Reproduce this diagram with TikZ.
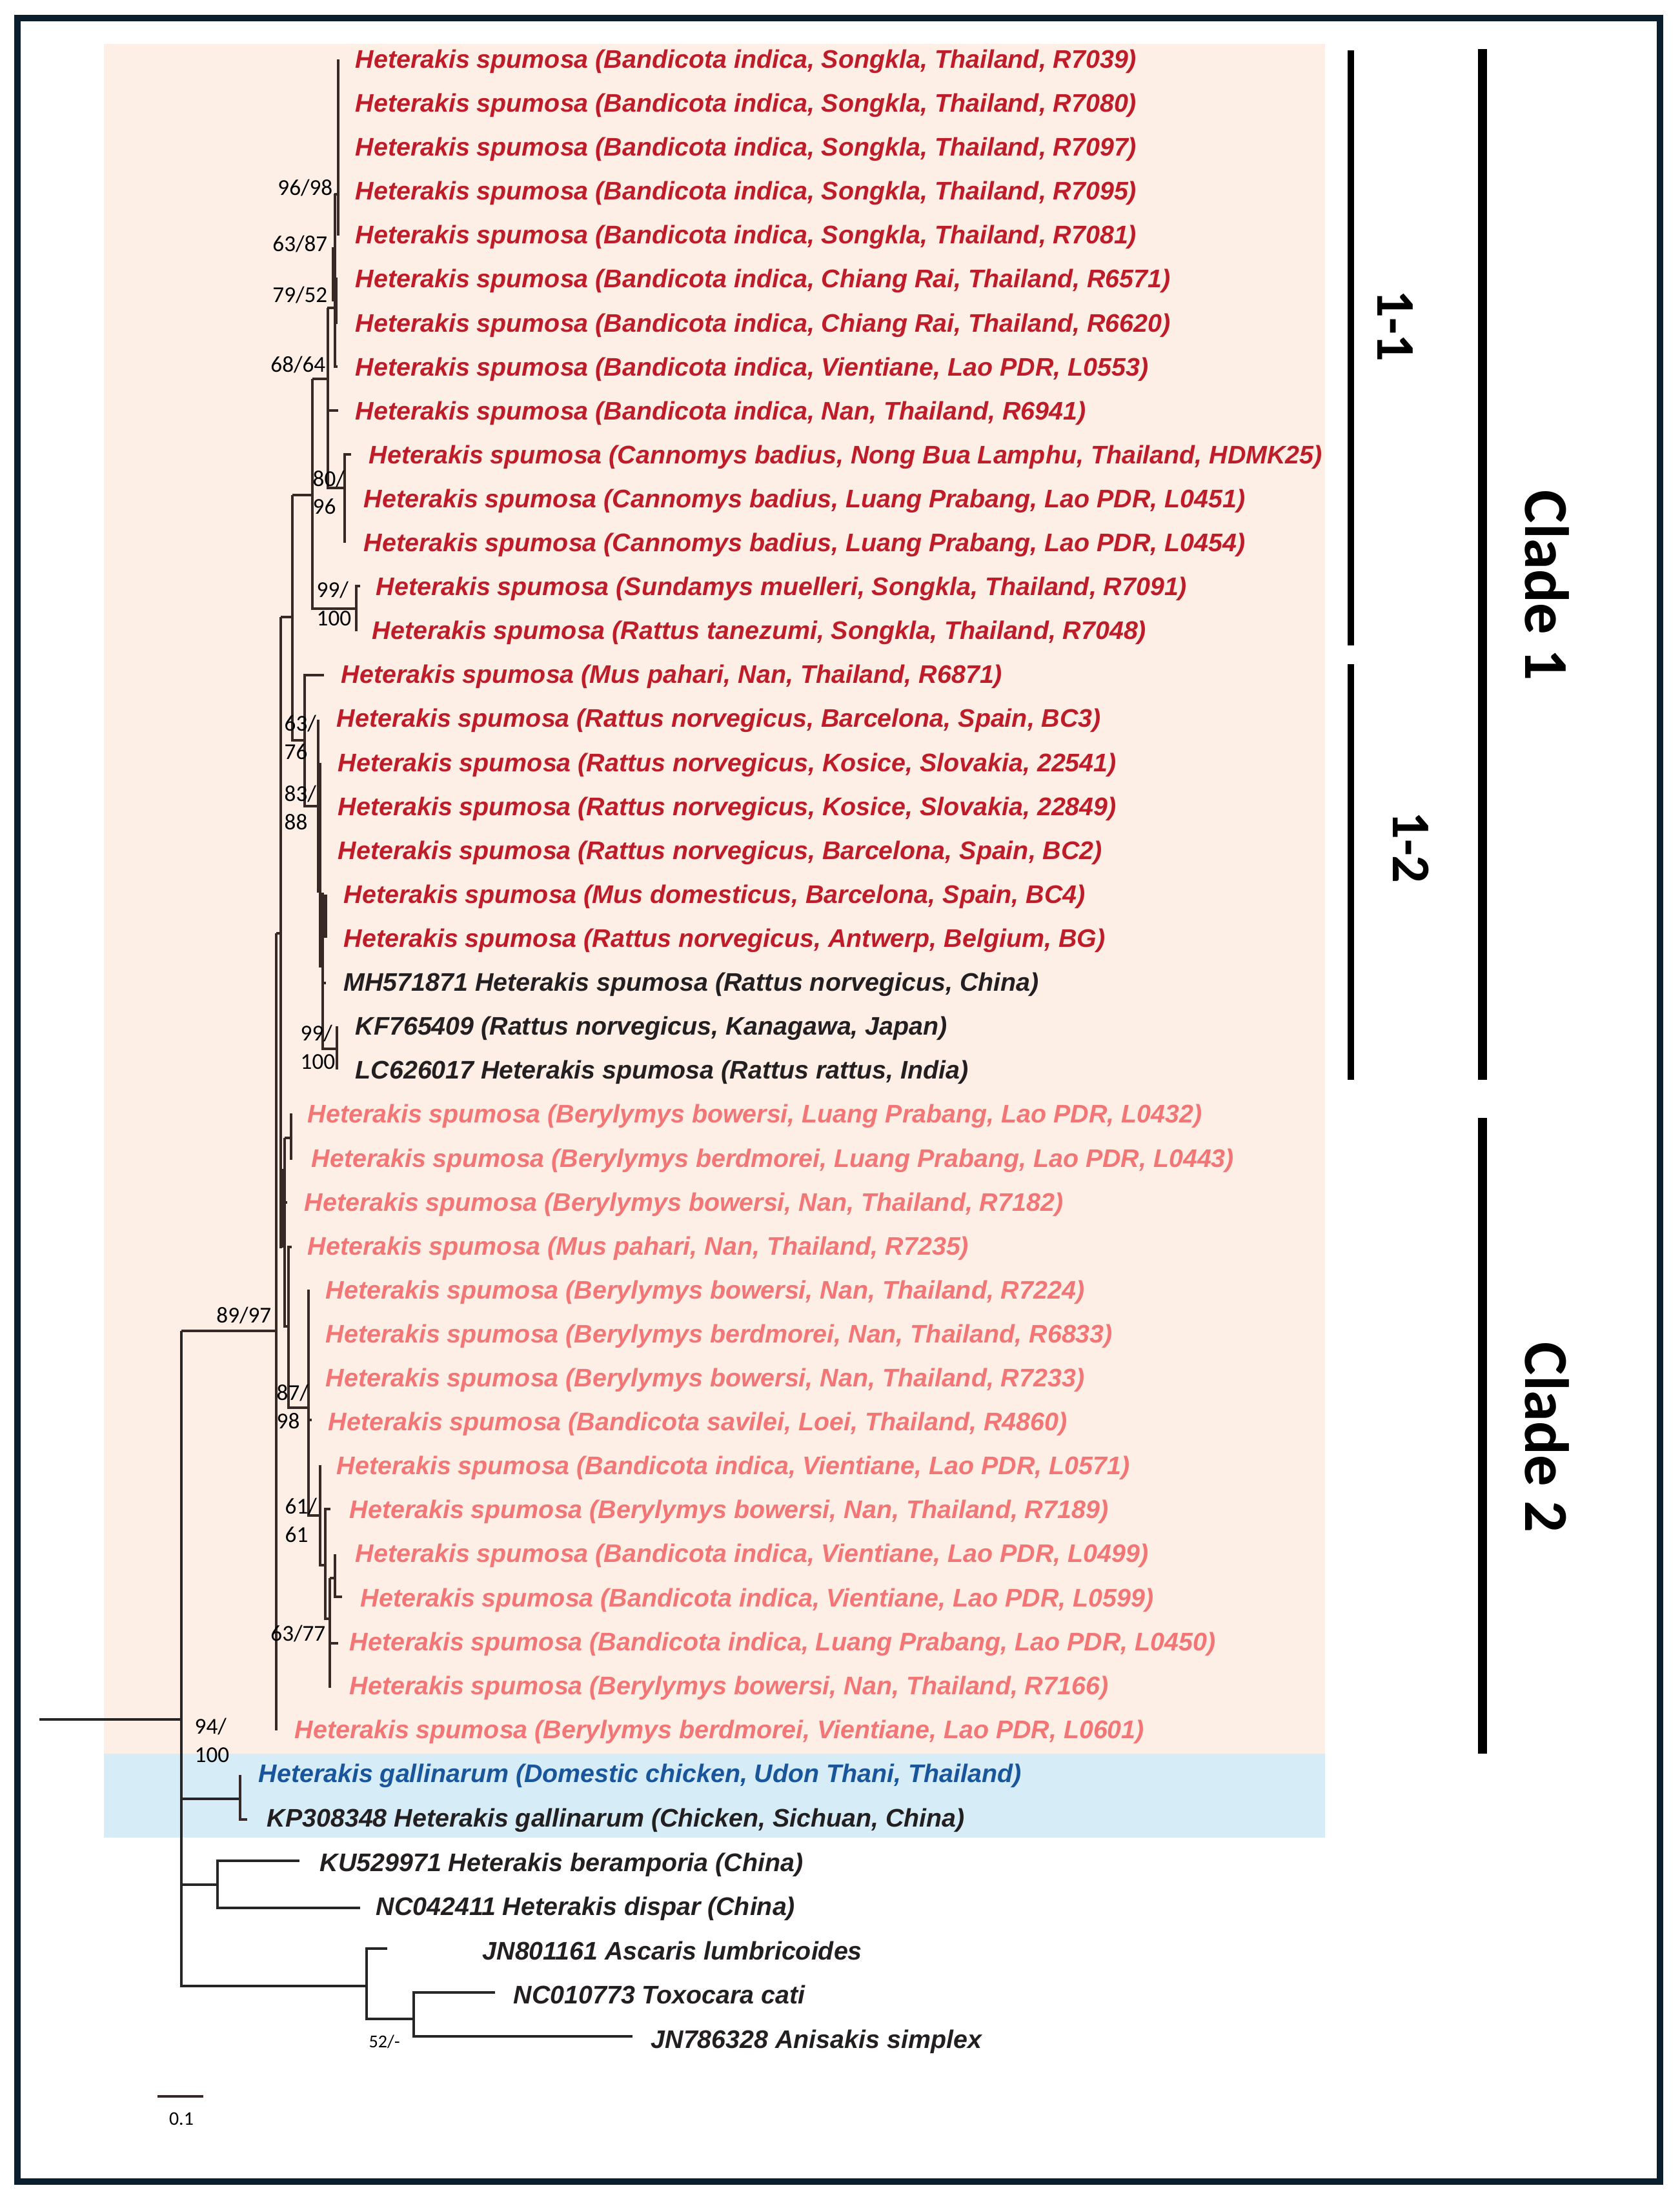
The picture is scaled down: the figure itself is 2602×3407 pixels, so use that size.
\documentclass[tikz,border=0pt]{standalone}
\usepackage{fontspec}
\setmainfont{Liberation Sans}
\newfontfamily\calib{Carlito}
\definecolor{pinkbg}{RGB}{253,238,230}
\definecolor{bluebg}{RGB}{214,237,247}
\definecolor{cone}{RGB}{190,28,40}
\definecolor{ctwo}{RGB}{242,118,118}
\definecolor{cgal}{RGB}{25,85,155}
\definecolor{cref}{RGB}{35,31,32}
\definecolor{frame}{RGB}{10,30,45}
\definecolor{branch}{RGB}{55,42,38}
\tikzset{
  tiplab/.style={anchor=mid west,inner sep=0pt,yshift=-1.5pt,font=\fontsize{11.2}{13}\selectfont\bfseries\itshape},
  cA/.style={text=cone},
  cB/.style={text=ctwo},
  cG/.style={text=cgal},
  cR/.style={text=cref},
  supval/.style={inner sep=0pt,align=left,font=\calib\fontsize{10}{12.5}\selectfont},
  br/.style={draw=branch,line width=0.9pt},
  obr/.style={draw=black!85,line width=1.05pt},
  thickbr/.style={draw=branch,line width=1.6pt},
  cladelab/.style={rotate=-90,inner sep=0pt,font=\calib\bfseries\fontsize{27.5}{30}\selectfont},
  sublab/.style={rotate=-90,inner sep=0pt,font=\calib\bfseries\fontsize{24}{26}\selectfont},
}
\begin{document}
\begin{tikzpicture}[x=0.01cm,y=-0.01cm]
\useasboundingbox (0,0) rectangle (2602,3407);
\fill[white] (0,0) rectangle (2602,3407);
% backgrounds
\fill[pinkbg] (161,68) rectangle (2053,2717);
\fill[bluebg] (161,2717) rectangle (2053,2847);
% frame
\draw[frame,line width=2.85pt] (27,28) rectangle (2572,3380);

% tip labels
\node[tiplab,cA] (t1) at (550,91) {Heterakis spumosa (Bandicota indica, Songkla, Thailand, R7039)};
\node[tiplab,cA] (t2) at (550,159) {Heterakis spumosa (Bandicota indica, Songkla, Thailand, R7080)};
\node[tiplab,cA] (t3) at (550,227) {Heterakis spumosa (Bandicota indica, Songkla, Thailand, R7097)};
\node[tiplab,cA] (t4) at (550,295) {Heterakis spumosa (Bandicota indica, Songkla, Thailand, R7095)};
\node[tiplab,cA] (t5) at (550,363) {Heterakis spumosa (Bandicota indica, Songkla, Thailand, R7081)};
\node[tiplab,cA] (t6) at (550,431) {Heterakis spumosa (Bandicota indica, Chiang Rai, Thailand, R6571)};
\node[tiplab,cA] (t7) at (550,500) {Heterakis spumosa (Bandicota indica, Chiang Rai, Thailand, R6620)};
\node[tiplab,cA] (t8) at (550,568) {Heterakis spumosa (Bandicota indica, Vientiane, Lao PDR, L0553)};
\node[tiplab,cA] (t9) at (550,636) {Heterakis spumosa (Bandicota indica, Nan, Thailand, R6941)};
\node[tiplab,cA] (t10) at (571,704) {Heterakis spumosa (Cannomys badius, Nong Bua Lamphu, Thailand, HDMK25)};
\node[tiplab,cA] (t11) at (563,772) {Heterakis spumosa (Cannomys badius, Luang Prabang, Lao PDR, L0451)};
\node[tiplab,cA] (t12) at (563,840) {Heterakis spumosa (Cannomys badius, Luang Prabang, Lao PDR, L0454)};
\node[tiplab,cA] (t13) at (582,908) {Heterakis spumosa (Sundamys muelleri, Songkla, Thailand, R7091)};
\node[tiplab,cA] (t14) at (576,976) {Heterakis spumosa (Rattus tanezumi, Songkla, Thailand, R7048)};
\node[tiplab,cA] (t15) at (528,1044) {Heterakis spumosa (Mus pahari, Nan, Thailand, R6871)};
\node[tiplab,cA] (t16) at (521,1112) {Heterakis spumosa (Rattus norvegicus, Barcelona, Spain, BC3)};
\node[tiplab,cA] (t17) at (523,1181) {Heterakis spumosa (Rattus norvegicus, Kosice, Slovakia, 22541)};
\node[tiplab,cA] (t18) at (523,1249) {Heterakis spumosa (Rattus norvegicus, Kosice, Slovakia, 22849)};
\node[tiplab,cA] (t19) at (523,1317) {Heterakis spumosa (Rattus norvegicus, Barcelona, Spain, BC2)};
\node[tiplab,cA] (t20) at (532,1385) {Heterakis spumosa (Mus domesticus, Barcelona, Spain, BC4)};
\node[tiplab,cA] (t21) at (532,1453) {Heterakis spumosa (Rattus norvegicus, Antwerp, Belgium, BG)};
\node[tiplab,cR] (t22) at (532,1521) {MH571871 Heterakis spumosa (Rattus norvegicus, China)};
\node[tiplab,cR] (t23) at (550,1589) {KF765409 (Rattus norvegicus, Kanagawa, Japan)};
\node[tiplab,cR] (t24) at (550,1657) {LC626017 Heterakis spumosa (Rattus rattus, India)};
\node[tiplab,cB] (t25) at (476,1725) {Heterakis spumosa (Berylymys bowersi, Luang Prabang, Lao PDR, L0432)};
\node[tiplab,cB] (t26) at (482,1794) {Heterakis spumosa (Berylymys berdmorei, Luang Prabang, Lao PDR, L0443)};
\node[tiplab,cB] (t27) at (471,1862) {Heterakis spumosa (Berylymys bowersi, Nan, Thailand, R7182)};
\node[tiplab,cB] (t28) at (476,1930) {Heterakis spumosa (Mus pahari, Nan, Thailand, R7235)};
\node[tiplab,cB] (t29) at (504,1998) {Heterakis spumosa (Berylymys bowersi, Nan, Thailand, R7224)};
\node[tiplab,cB] (t30) at (504,2066) {Heterakis spumosa (Berylymys berdmorei, Nan, Thailand, R6833)};
\node[tiplab,cB] (t31) at (504,2134) {Heterakis spumosa (Berylymys bowersi, Nan, Thailand, R7233)};
\node[tiplab,cB] (t32) at (508,2202) {Heterakis spumosa (Bandicota savilei, Loei, Thailand, R4860)};
\node[tiplab,cB] (t33) at (521,2270) {Heterakis spumosa (Bandicota indica, Vientiane, Lao PDR, L0571)};
\node[tiplab,cB] (t34) at (541,2338) {Heterakis spumosa (Berylymys bowersi, Nan, Thailand, R7189)};
\node[tiplab,cB] (t35) at (550,2406) {Heterakis spumosa (Bandicota indica, Vientiane, Lao PDR, L0499)};
\node[tiplab,cB] (t36) at (558,2475) {Heterakis spumosa (Bandicota indica, Vientiane, Lao PDR, L0599)};
\node[tiplab,cB] (t37) at (541,2543) {Heterakis spumosa (Bandicota indica, Luang Prabang, Lao PDR, L0450)};
\node[tiplab,cB] (t38) at (541,2611) {Heterakis spumosa (Berylymys bowersi, Nan, Thailand, R7166)};
\node[tiplab,cB] (t39) at (456,2679) {Heterakis spumosa (Berylymys berdmorei, Vientiane, Lao PDR, L0601)};
\node[tiplab,cG] (t40) at (400,2747) {Heterakis gallinarum (Domestic chicken, Udon Thani, Thailand)};
\node[tiplab,cR] (t41) at (413,2816) {KP308348 Heterakis gallinarum (Chicken, Sichuan, China)};
\node[tiplab,cR] (t42) at (495,2885) {KU529971 Heterakis beramporia (China)};
\node[tiplab,cR] (t43) at (582,2953) {NC042411 Heterakis dispar (China)};
\node[tiplab,cR] (t44) at (747,3022) {JN801161 Ascaris lumbricoides};
\node[tiplab,cR] (t45) at (795,3090) {NC010773 Toxocara cati};
\node[tiplab,cR] (t46) at (1008,3159) {JN786328 Anisakis simplex};

% ---- tree branches ----
% clade 1-1
\draw[br] (524,92) -- (524,365);
\draw[br] (518,301) -- (524,301);
\draw[br] (519,300) -- (519,568) -- (523,568);
\draw[br] (521,430) -- (521,502);
\draw[thickbr] (517,383) -- (517,467);
\draw[br] (507,477) -- (517,477);
\draw[br] (508,477) -- (508,756) -- (534,756);
\draw[br] (508,636) -- (524,636);
\draw[br] (544,704) -- (534,704) -- (534,841);
\draw[br] (484,587) -- (508,587);
\draw[br] (484,587) -- (484,943) -- (552,943);
\draw[br] (558,908) -- (552,908) -- (552,978);
\draw[br] (453,767) -- (484,767);
\draw[br] (453,767) -- (453,1147) -- (472,1147);
\draw[br] (435,956) -- (453,956);
% clade 1-2
\draw[br] (502,1046) -- (472,1046) -- (472,1249) -- (493,1249);
\draw[br] (493,1115) -- (493,1383);
\draw[thickbr] (495,1182) -- (495,1383);
\draw[br] (496,1383) -- (496,1497) -- (500,1497);
\draw[br] (500,1383) -- (500,1625) -- (522,1625);
\draw[thickbr] (504,1386) -- (504,1453);
\draw[br] (500,1420) -- (504,1420);
\draw[br] (500,1523) -- (505,1523);
\draw[br] (522,1590) -- (522,1657);
% clade 2
\draw[br] (428,1446) -- (435,1446);
\draw[br] (435,956) -- (435,1934);
\draw[thickbr] (436,1813) -- (436,1933);
\draw[br] (435,1813) -- (441,1813);
\draw[br] (441,1763) -- (441,2055) -- (447,2055);
\draw[br] (441,1763) -- (451,1763);
\draw[br] (451,1725) -- (451,1797);
\draw[br] (441,1863) -- (445,1863);
\draw[br] (452,1932) -- (447,1932) -- (447,2181) -- (478,2181);
\draw[br] (478,1998) -- (478,2348) -- (496,2348);
\draw[br] (478,2200) -- (483,2200);
\draw[br] (496,2270) -- (496,2425) -- (504,2425);
\draw[br] (512,2338) -- (504,2338) -- (504,2508) -- (511,2508);
\draw[br] (511,2445) -- (511,2615);
\draw[br] (511,2445) -- (519,2445);
\draw[br] (519,2408) -- (519,2474) -- (530,2474);
\draw[br] (511,2546) -- (524,2546);
\draw[br] (428,1446) -- (428,2681);
\draw[br] (281,2062) -- (428,2062);
% root and outgroups
\draw[obr] (61,2664) -- (281,2664);
\draw[obr] (281,2062) -- (281,3077) -- (568,3077);
\draw[obr] (281,2787) -- (372,2787);
\draw[br] (372,2750) -- (372,2819) -- (383,2819);
\draw[obr] (281,2920) -- (337,2920);
\draw[obr] (464,2883) -- (337,2883) -- (337,2956) -- (558,2956);
\draw[obr] (600,3019) -- (568,3019) -- (568,3128) -- (641,3128);
\draw[obr] (767,3087) -- (641,3087) -- (641,3155) -- (980,3155);

% ---- support values ----
\node[supval,anchor=base east] (s1) at (516,303) {96/98};
\node[supval,anchor=base east] (s2) at (508,390) {63/87};
\node[supval,anchor=base east] (s3) at (508,469) {79/52};
\node[supval,anchor=base east] (s4) at (505,577) {68/64};
\node[supval,anchor=base west] (s5) at (484,797) {80/\\96};
\node[supval,anchor=base west] (s6) at (490,969) {99/\\100};
\node[supval,anchor=base west] (s7) at (440,1176) {63/\\76};
\node[supval,anchor=base west] (s8) at (440,1285) {83/\\88};
\node[supval,anchor=base west] (s9) at (465,1656) {99/\\100};
\node[supval,anchor=base east] (s10) at (421,2049) {89/97};
\node[supval,anchor=base west] (s11) at (428,2213) {87/\\98};
\node[supval,anchor=base west] (s12) at (441,2389) {61/\\61};
\node[supval,anchor=base east] (s13) at (505,2542) {63/77};
\node[supval,anchor=base west] (s14) at (301,2730) {94/\\100};
\node[supval,anchor=base west,font=\calib\fontsize{8}{9}\selectfont] (s15) at (571,3172) {52/-};

% scale bar
\coordinate (sbA) at (244,3248);
\coordinate (sbB) at (315,3248);
\draw[branch,line width=1.1pt] (sbA) -- (sbB);
\node[inner sep=0pt,font=\calib\fontsize{8.5}{9}\selectfont] (sbl) at (281,3283) {0.1};

% clade bars
\draw[black,line width=2.85pt] (2093,78) -- (2093,1000);
\draw[black,line width=2.85pt] (2093,1029) -- (2093,1673);
\draw[black,line width=4pt] (2297,76) -- (2297,1673);
\draw[black,line width=4pt] (2297,1732) -- (2297,2717);
\node[sublab] (l11) at (2162,505) {1-1};
\node[sublab] (l12) at (2186,1313) {1-2};
\node[cladelab] (cl1) at (2397,907) {Clade 1};
\node[cladelab] (cl2) at (2397,2227) {Clade 2};
\end{tikzpicture}
\end{document}
